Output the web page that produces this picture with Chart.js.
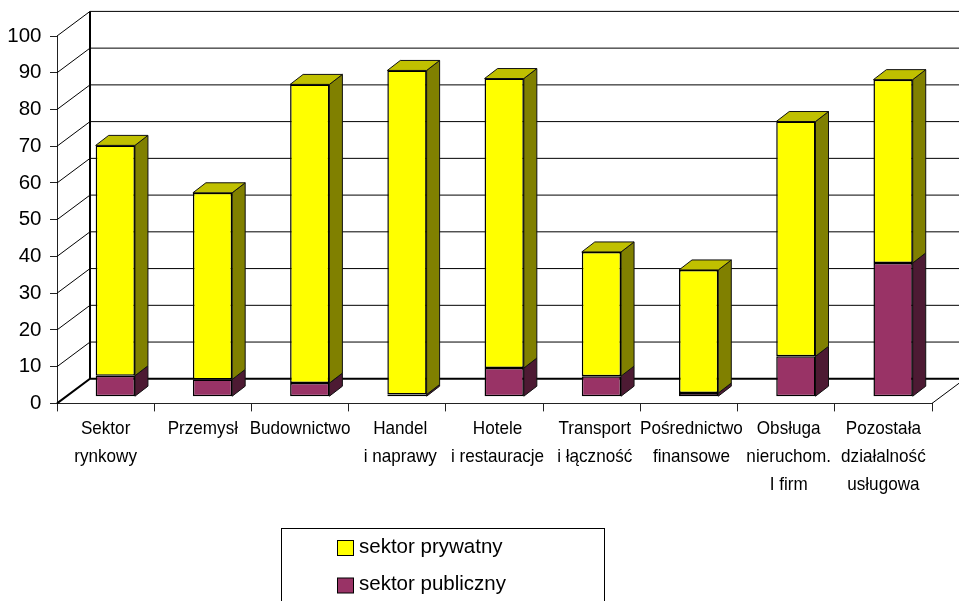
<!DOCTYPE html>
<html>
<head>
<meta charset="utf-8">
<style>
  html, body { margin: 0; padding: 0; background: #fff; overflow: hidden; }
  canvas { display: block; }
</style>
<script src="https://cdn.jsdelivr.net/npm/chart.js@4"></script>
</head>
<body>
<canvas id="chart" width="959" height="601"></canvas>
<script>
const categories = [
  ["Sektor", "rynkowy"],
  ["Przemysł"],
  ["Budownictwo"],
  ["Handel", "i naprawy"],
  ["Hotele", "i restauracje"],
  ["Transport", "i łączność"],
  ["Pośrednictwo", "finansowe"],
  ["Obsługa", "nieruchom.", "I firm"],
  ["Pozostała", "działalność", "usługowa"],
];
const publiczny = [5.7, 4.7, 3.7, 0.6, 7.8, 5.6, 1.0, 11.0, 36.4];
const prywatny = [62.7, 50.8, 81.3, 88.2, 78.8, 33.8, 33.5, 63.9, 49.9];
const legendOrder = [1, 0];

// fake 3D: back wall offset, and where the bar sits inside the floor depth
const wallDx = 33, wallDy = -24.6;
const barDx = 9.7, barDy = -6.7;
const depthDx = 13, depthDy = -10;
// the source's labels sit a little right of centre in the middle of the axis
const labelNudge = [0, 0, 0, 3, 3, 3, 2.5, 2.5, 0];

function poly(ctx, pts, fill) {
  ctx.beginPath();
  pts.forEach((p, i) => (i ? ctx.lineTo(p[0], p[1]) : ctx.moveTo(p[0], p[1])));
  ctx.closePath();
  ctx.fillStyle = fill;
  ctx.fill();
  ctx.stroke();
}

const box3d = {
  id: "box3d",
  beforeDatasetsDraw(chart) {
    const { ctx, chartArea: a, scales } = chart;
    const y = scales.y;
    ctx.save();
    ctx.strokeStyle = "#000";
    // left wall diagonals + back wall lines
    y.ticks.forEach((t) => {
      const py = y.getPixelForValue(t.value);
      ctx.beginPath();
      ctx.moveTo(a.left, py);
      ctx.lineTo(a.left + wallDx, py + wallDy);
      ctx.lineTo(a.right + wallDx, py + wallDy);
      ctx.lineWidth = t.value === 0 ? 2 : 1;
      ctx.stroke();
    });
    // back wall left edge, floor right edge
    ctx.lineWidth = 2;
    ctx.beginPath();
    ctx.moveTo(a.left + wallDx, a.top + wallDy);
    ctx.lineTo(a.left + wallDx, a.bottom + wallDy);
    ctx.stroke();
    ctx.lineWidth = 1;
    ctx.beginPath();
    ctx.moveTo(a.right, a.bottom);
    ctx.lineTo(a.right + wallDx, a.bottom + wallDy);
    ctx.stroke();
    ctx.restore();

    // side and top faces, then shift so the library draws the fronts in depth
    ctx.save();
    ctx.translate(barDx, barDy);
    ctx.strokeStyle = "#111";
    ctx.lineWidth = 1;
    chart.data.datasets.forEach((ds, di) => {
      chart.getDatasetMeta(di).data.forEach((bar) => {
        const p = bar.getProps(["x", "y", "base", "width"], true);
        const r = p.x + p.width / 2, l = p.x - p.width / 2;
        poly(ctx, [[r, p.y], [r + depthDx, p.y + depthDy], [r + depthDx, p.base + depthDy], [r, p.base]], ds.sideColor);
        if (ds.topColor) {
          poly(ctx, [[l, p.y], [l + depthDx, p.y + depthDy], [r + depthDx, p.y + depthDy], [r, p.y]], ds.topColor);
        }
      });
    });
  },
  afterDatasetsDraw(chart) {
    chart.ctx.restore();
  },
  afterDraw(chart) {
    const ctx = chart.ctx;
    const x = chart.scales.x;

    // category labels: the source uses a condensed face, so squeeze them
    ctx.save();
    ctx.font = "19px 'Liberation Sans'";
    ctx.fillStyle = "#000";
    ctx.textAlign = "center";
    ctx.textBaseline = "middle";
    categories.forEach((lines, i) => {
      lines.forEach((line, j) => {
        ctx.save();
        ctx.translate(x.getPixelForTick(i) + labelNudge[i], 429 + j * 27.7);
        ctx.scale(0.9, 1);
        ctx.fillText(line, 0, 0);
        ctx.restore();
      });
    });
    ctx.restore();

    // legend box runs off the bottom of the page, like in the source
    ctx.save();
    ctx.strokeStyle = "#000";
    ctx.lineWidth = 1;
    ctx.strokeRect(281.5, 528.5, 323, 100);
    ctx.font = "20.5px 'Liberation Sans'";
    ctx.textBaseline = "middle";
    legendOrder.forEach((di, i) => {
      const ds = chart.data.datasets[di];
      const ty = 547 + i * 37.5;
      ctx.fillStyle = ds.backgroundColor;
      ctx.fillRect(337.5, ty - 6.5, 16, 15);
      ctx.strokeRect(337.5, ty - 6.5, 16, 15);
      ctx.fillStyle = "#000";
      ctx.fillText(ds.label, 359, ty);
    });
    ctx.restore();
  },
};

new Chart(document.getElementById("chart"), {
  type: "bar",
  data: {
    labels: categories,
    datasets: [
      {
        label: "sektor publiczny",
        data: publiczny,
        backgroundColor: "#993366",
        sideColor: "#4d1a33",
        borderColor: "#000",
        borderWidth: 1.5,
        borderSkipped: false,
        clip: false,
      },
      {
        label: "sektor prywatny",
        data: prywatny,
        backgroundColor: "#ffff00",
        sideColor: "#808000",
        topColor: "#c0c000",
        borderColor: "#000",
        borderWidth: 1.5,
        borderSkipped: false,
        clip: false,
      },
    ],
  },
  options: {
    responsive: false,
    animation: false,
    layout: { padding: { top: 36, right: 27, left: 0, bottom: 0 } },
    barPercentage: 0.404,
    categoryPercentage: 1,
    plugins: { legend: { display: false }, tooltip: { enabled: false } },
    scales: {
      x: {
        stacked: true,
        afterFit: (s) => { s.height = 197.6; },
        border: { color: "#222", width: 1 },
        grid: { offset: true, drawOnChartArea: false, color: "#222", tickLength: 8 },
        ticks: { display: false },
      },
      y: {
        stacked: true,
        min: 0,
        max: 100,
        afterFit: (s) => { s.width = 57; },
        border: { color: "#222", width: 1 },
        grid: { drawOnChartArea: false, color: "#222", tickLength: 7 },
        ticks: {
          stepSize: 10,
          padding: 8.5,
          color: "#000",
          font: { family: "'Liberation Sans'", size: 20.5 },
        },
      },
    },
  },
  plugins: [box3d],
});
</script>
</body>
</html>
